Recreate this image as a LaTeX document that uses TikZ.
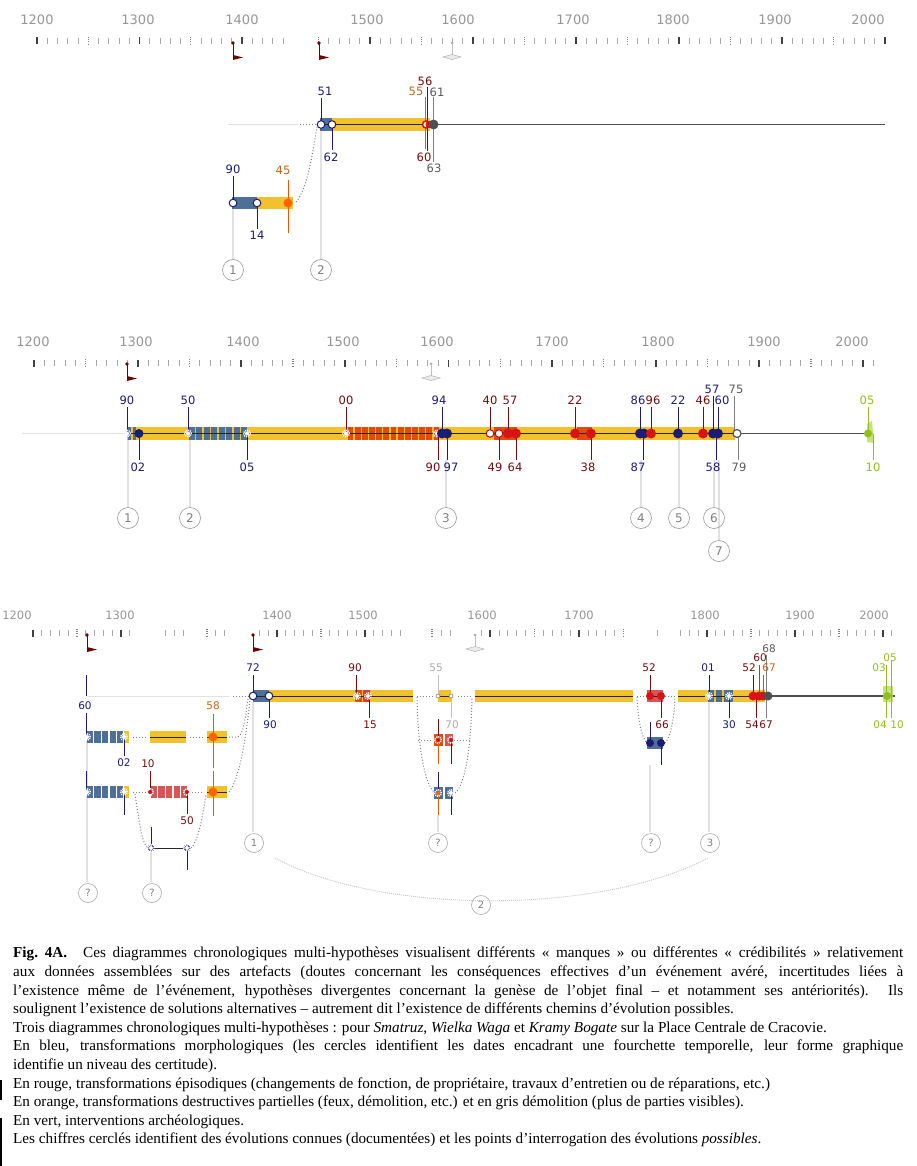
\documentclass[tikz,border=0pt]{standalone}
\usepackage{fontspec}
\setmainfont{Liberation Serif}
\newfontfamily\lblfont{DejaVu Sans}
\definecolor{gold}{RGB}{242,193,46}
\definecolor{steel}{RGB}{78,112,150}
\definecolor{navy}{RGB}{28,28,112}
\definecolor{dred}{RGB}{112,12,12}
\definecolor{red1}{RGB}{215,20,20}
\definecolor{ored}{RGB}{225,75,15}
\definecolor{orng}{RGB}{255,100,0}
\definecolor{olbl}{RGB}{200,100,20}
\definecolor{lred}{RGB}{215,85,85}
\definecolor{grn}{RGB}{145,190,30}
\definecolor{lgrn}{RGB}{180,220,90}
\definecolor{gtext}{RGB}{90,90,90}
\definecolor{ltext}{RGB}{170,170,170}
\definecolor{axg}{RGB}{150,150,150}
\definecolor{lgray}{RGB}{225,225,225}
\definecolor{dgray}{RGB}{80,80,80}
\definecolor{flagred}{RGB}{110,0,0}
\definecolor{brn}{RGB}{150,70,60}
\newcounter{lblc}
\newcommand\mylbl[4]{\stepcounter{lblc}\node[lbl, text=#3] (L\arabic{lblc}) at (#1,#2) {#4};}
\newcommand\mylbs[4]{\stepcounter{lblc}\node[lbs, text=#3] (L\arabic{lblc}) at (#1,#2) {#4};}
\newcommand\drawticks[6]{%
 \foreach \dd in {#5,...,#6}{%
  \pgfmathsetmacro\xx{#2+(\dd-#3)*#4}%
  \pgfmathtruncatemacro\tkm{mod(\dd,10)}%
  \ifnum\tkm=0 \draw[tmaj] (\xx,#1-3.5) -- (\xx,#1+3.5);%
  \else\ifnum\tkm=5 \draw[thalf] (\xx,#1-4) -- (\xx,#1+4);%
  \else \draw[tmin] (\xx,#1-3) -- (\xx,#1+3);\fi\fi}}
\newcommand\flagmark[2]{\fill[flagred] (#1,#2) circle (1.8pt);
 \draw[flagred, line width=0.8pt] (#1,#2) -- (#1,#2+17);
 \fill[flagred] (#1,#2+12) -- (#1+10,#2+14.5) -- (#1,#2+17) -- cycle;}
\newcommand\graymark[2]{\fill[gray!70] (#1,#2) circle (1.5pt);
 \draw[gray!50, line width=0.7pt] (#1,#2) -- (#1,#2+12);
 \draw[gray!60, fill=gray!15, line width=0.5pt] (#1-9,#2+14) -- (#1,#2+11.5) -- (#1+9,#2+14) -- (#1,#2+16.5) -- cycle;}
\newcommand\stripebar[6]{%
 \pgfmathsetmacro\stw{(#2-#1)/#6}%
 \foreach \kk in {1,...,#6}{%
   \fill[#5] ({#1+(\kk-1)*\stw+0.7},#3) rectangle ({#1+\kk*\stw-0.7},#4);}}
\newcommand\sdt[3]{\fill[#3] (#1,#2) circle (2pt);
 \draw[white, line width=1.4pt, dash pattern=on 1.1pt off 0.9pt] (#1,#2) circle (3.3pt);}
\newcommand\wdt[2]{\draw[navy, fill=white, line width=1pt] (#1,#2) circle (3.8pt);}
\newcommand\fdt[4]{\fill[#3] (#1,#2) circle (#4pt);}
\begin{document}
\begin{tikzpicture}[x=1pt,y=-1pt,
 lbl/.style={font=\lblfont\fontsize{11.5}{12}\selectfont, inner sep=0pt},
 lbs/.style={font=\lblfont\fontsize{10.5}{11}\selectfont, inner sep=0pt},
 axl/.style={font=\lblfont\fontsize{13}{14}\selectfont, text=axg, inner sep=0pt},
 axs/.style={font=\lblfont\fontsize{11.5}{12}\selectfont, text=axg, inner sep=0pt},
 cnum/.style={circle, draw=gray!80, line width=0.6pt, minimum size=21pt, inner sep=0pt, text=gray, font=\lblfont\fontsize{12}{12}\selectfont},
 cnums/.style={circle, draw=gray!70, line width=0.6pt, minimum size=19pt, inner sep=0pt, text=gray, font=\lblfont\fontsize{10}{10}\selectfont},
 conn/.style={lgray, line width=2.5pt},
 dots/.style={gray, line width=1pt, dotted},
 vl/.style={line width=0.8pt},
 blk/.style={black!85, line width=0.8pt},
 tmaj/.style={black!75, line width=1.8pt},
 tmin/.style={gray!70, line width=0.7pt},
 thalf/.style={gray, line width=1.2pt, dash pattern=on 1pt off 1.2pt}]
\useasboundingbox (0,0) rectangle (916,1166);
\fill[white] (0,0) rectangle (916,1166);

%================ DIAGRAM 1 =================
\foreach \t/\x in {1200/37,1300/138,1400/242,1500/367,1600/458,1700/573,1800/673,1900/775,2000/868}
  \node[axl] (a1-\t) at (\x,20) {\t};
\drawticks{41}{37}{120}{10.25}{120}{144}
\drawticks{41}{370}{150}{10.3}{145}{200}
\flagmark{233}{43}
\flagmark{319}{43}
\graymark{452}{43}
\draw[conn] (233,209) -- (233,259);
\draw[conn] (321,131) -- (321,259);
\node[cnum] (c1a) at (233,270) {1};
\node[cnum] (c1b) at (321,270) {2};
\draw[lgray, line width=1pt] (228,124.5) -- (298,124.5);
\draw[dots] (300,124.5) -- (318,124.5);
\fill[steel] (320,118) rectangle (332,131);
\fill[gold] (332,118) rectangle (430,131);
\draw[blk] (320,124.5) -- (432,124.5);
\draw[dgray, line width=1.2pt] (432,124.5) -- (885,124.5);
\fill[steel] (232,197) rectangle (257,209);
\fill[gold] (257,197) rectangle (293,209);
\draw[dots] (296,202) .. controls (308,188) and (313,150) .. (317,127);
\draw[navy, vl] (321,98) -- (321,124.5);
\draw[navy, vl] (332,124.5) -- (332,150);
\draw[orng!90!black, vl] (425,97) -- (425,149);
\draw[dred, vl] (427.5,87) -- (427.5,151);
\draw[gray, vl] (433,97) -- (433,162);
\draw[navy, vl] (233,176) -- (233,203);
\draw[navy, vl] (257,203) -- (257,229);
\draw[orng!90!black, vl] (288,180) -- (288,233);
\wdt{321}{124.5} \wdt{332}{124.5}
\draw[red1, fill=white, line width=1.5pt] (426,124.5) circle (3.5pt);
\fdt{429}{124.5}{red1}{3.5}
\fdt{433.5}{124.5}{dgray}{5}
\wdt{233}{203} \wdt{257}{203}
\fdt{288}{203}{orng}{4.5}
\mylbl{325}{91}{navy}{51} \mylbl{331}{157}{navy}{62}
\mylbl{425}{81}{dred}{56} \mylbl{416}{91}{olbl}{55} \mylbl{437}{92}{gtext}{61}
\mylbl{424}{157}{dred}{60} \mylbl{434}{168}{gtext}{63}
\mylbl{233}{169}{navy}{90} \mylbl{283}{170}{olbl}{45} \mylbl{257}{235}{navy}{14}

%================ DIAGRAM 2 =================
\foreach \t/\x in {1200/33,1300/136,1400/243,1500/343,1600/437,1700/552,1800/658,1900/764,2000/852}
  \node[axl] (a2-\t) at (\x,342) {\t};
\drawticks{363}{34}{120}{10.36}{120}{201}
\flagmark{127}{364}
\graymark{431}{364}
\draw[conn] (128,440) -- (128,507);
\draw[conn] (190,440) -- (190,507);
\draw[conn] (446,460) -- (446,507);
\draw[conn] (641,460) -- (641,507);
\draw[conn] (679,440) -- (679,507);
\draw[conn] (714,460) -- (714,507);
\draw[conn] (719,460) -- (719,540);
\node[cnum] (c2a) at (128,518) {1};
\node[cnum] (c2b) at (190,518) {2};
\node[cnum] (c2c) at (446,518) {3};
\node[cnum] (c2d) at (641,518) {4};
\node[cnum] (c2e) at (679,518) {5};
\node[cnum] (c2f) at (714,518) {6};
\node[cnum] (c2g) at (719,551) {7};
\draw[lgray, line width=1pt] (22,433.5) -- (127,433.5);
\fill[gold] (127,427) rectangle (735,440);
\stripebar{127}{137}{427}{440}{steel}{2}
\stripebar{188}{248}{427}{440}{steel}{8}
\stripebar{347}{440}{427}{440}{ored}{13}
\fill[ored] (494,427) rectangle (517,440);
\fill[ored] (577,427) rectangle (592,440);
\draw[blk] (127,433.5) -- (737,433.5);
\draw[dgray, line width=1.2pt] (737,433.5) -- (873,433.5);
\fill[lgrn, opacity=0.8] (867,424) -- (872,421) -- (874,443) -- (867,442) -- cycle;
% top label lines
\foreach \x in {127,188,442,640,678,718} \draw[navy, vl] (\x,407) -- (\x,433.5);
\foreach \x in {346,490,508,575,651,703} \draw[dred, vl] (\x,407) -- (\x,433.5);
\draw[navy, vl] (713,396) -- (713,433.5);
\draw[gray, vl] (734,396) -- (734,433.5);
\draw[grn, vl] (868,407) -- (868,433.5);
% bottom label lines
\foreach \x in {139,247,447,643,716} \draw[navy, vl] (\x,433.5) -- (\x,460);
\foreach \x in {438,499,516,591} \draw[dred, vl] (\x,433.5) -- (\x,460);
\draw[gray, vl] (738,433.5) -- (738,460);
\draw[grn, vl] (873,433.5) -- (873,460);
% dots
\sdt{127}{433.5}{white}
\fdt{139}{433.5}{navy}{4.5}
\sdt{188}{433.5}{white} \sdt{247}{433.5}{white}
\sdt{346}{433.5}{white} \sdt{437}{433.5}{white}
\fdt{442}{433.5}{navy}{5} \fdt{447}{433.5}{navy}{5}
\draw[red1!80!black, fill=white, line width=1pt] (490,433.5) circle (3.8pt);
\draw[red1!80!black, fill=white, line width=1pt] (499,433.5) circle (3.8pt);
\fdt{508}{433.5}{red1}{5} \fdt{516}{433.5}{red1}{5}
\fdt{575}{433.5}{red1}{5} \fdt{591}{433.5}{red1}{5}
\fdt{640}{433.5}{navy}{5} \fdt{644}{433.5}{navy}{5}
\fdt{651}{433.5}{red1}{5}
\fdt{678}{433.5}{navy}{5}
\fdt{703}{433.5}{red1}{5}
\fdt{713}{433.5}{navy}{5} \fdt{718}{433.5}{navy}{5}
\draw[dgray, fill=white, line width=1.2pt] (737,433.5) circle (4pt);
\fdt{868}{433.5}{grn}{4}
% labels
\mylbl{127}{400}{navy}{90} \mylbl{188}{400}{navy}{50} \mylbl{346}{400}{dred}{00}
\mylbl{439}{400}{navy}{94} \mylbl{490}{400}{dred}{40} \mylbl{510}{400}{dred}{57}
\mylbl{575}{400}{dred}{22} \mylbl{638}{400}{navy}{86} \mylbl{653}{400}{dred}{96}
\mylbl{678}{400}{navy}{22} \mylbl{703}{400}{dred}{46} \mylbl{712}{389}{navy}{57}
\mylbl{722}{400}{navy}{60} \mylbl{736}{389}{gtext}{75} \mylbl{867}{400}{grn}{05}
\mylbl{138}{467}{navy}{02} \mylbl{247}{467}{navy}{05} \mylbl{433}{467}{dred}{90}
\mylbl{451}{467}{navy}{97} \mylbl{495}{467}{dred}{49} \mylbl{515}{467}{dred}{64}
\mylbl{588}{467}{dred}{38} \mylbl{638}{467}{navy}{87} \mylbl{713}{467}{navy}{58}
\mylbl{739}{467}{gtext}{79} \mylbl{873}{467}{grn}{10}

%================ DIAGRAM 3 =================
\foreach \t/\x in {1200/17,1300/120,1400/277,1500/363,1600/482,1700/579,1800/705,1900/800,2000/874}
  \node[axs] (a3-\t) at (\x,615) {\t};
\drawticks{633}{33}{120}{8.8}{120}{131}
\foreach \x in {165,174,183,215,224,441,450,657} \draw[tmin] (\x,630) -- (\x,636);
\foreach \x in {207,432} \draw[thalf] (\x,629) -- (\x,637);
\drawticks{633}{277}{140}{8.8}{138}{154}
\drawticks{633}{490}{160}{8.9}{159}{175}
\drawticks{633}{707}{180}{8.8}{177}{201}
\flagmark{87}{635}
\flagmark{253}{635}
\graymark{475}{635}
% grey connectors
\draw[conn] (87,741) -- (87,882);
\draw[conn] (151,852) -- (151,882);
\draw[conn] (253,702) -- (253,832);
\draw[conn] (438,815) -- (438,832);
\draw[conn] (650,765) -- (650,832);
\draw[conn] (709,700) -- (709,832);
\node[cnums] (c3q1) at (88,893) {?};
\node[cnums] (c3q2) at (152,893) {?};
\node[cnums] (c3a) at (254,843) {1};
\node[cnums] (c3q3) at (438,843) {?};
\node[cnums] (c3q4) at (651,843) {?};
\node[cnums] (c3c) at (710,843) {3};
\node[cnums] (c3b) at (481,905) {2};
\draw[gray!45, line width=0.9pt, dash pattern=on 1pt off 1pt] (275,858) .. controls (380,915) and (600,915) .. (708,858);
% main line
\draw[lgray, line width=1pt] (87,696) -- (229,696);
\draw[dots] (233,696) -- (250,696);
\fill[steel] (253,690) rectangle (269,702);
\fill[gold] (269,690) rectangle (413,702);
\fill[ored] (355,690) rectangle (362,702);
\fill[red1!85] (363,690) rectangle (370,702);
\draw[blk] (253,696) -- (413,696);
\draw[dots] (417,696) -- (433,696);
\fill[gold] (438,690) rectangle (451,702);
\draw[blk] (438,696) -- (451,696);
\draw[dots] (458,696) -- (472,696);
\fill[gold] (475,690) rectangle (633,702);
\draw[blk] (475,696) -- (633,696);
\draw[dots] (637,696) -- (647,696);
\fill[lred] (647,690) rectangle (663,702);
\draw[blk] (647,696) -- (663,696);
\draw[dots] (665,696) -- (675,696);
\fill[gold] (678,690) rectangle (765,702);
\fill[steel] (708,690) rectangle (714,702);
\fill[steel] (716,690) rectangle (722,702);
\fill[steel] (724,690) rectangle (733,702);
\draw[blk] (678,696) -- (768,696);
\draw[dgray, line width=1.2pt] (768,696) -- (895,696);
\fill[lgrn, opacity=0.8] (883,686) rectangle (893,702);
% left rows
\stripebar{86}{124}{731}{743}{steel}{5}
\fill[gold] (124,731) rectangle (129,743);
\draw[dots] (133,737) -- (146,737);
\fill[gold] (150,731) rectangle (186,743);
\draw[blk] (150,737) -- (186,737);
\draw[dots] (190,737) -- (203,737);
\fill[gold] (207,731) rectangle (227,743);
\draw[blk] (207,737) -- (227,737);
\draw[dots] (229,737) -- (237,737) .. controls (244,737) and (246,712) .. (248,698);
\stripebar{86}{124}{786}{798}{steel}{5}
\fill[gold] (124,786) rectangle (129,798);
\draw[dots] (133,792) -- (146,792);
\stripebar{150}{188}{786}{798}{lred}{5}
\draw[dots] (192,792) -- (204,792);
\fill[gold] (207,786) rectangle (227,798);
\draw[blk] (207,792) -- (227,792);
\draw[dots] (229,792) .. controls (239,780) and (246,740) .. (250,699);
\draw[dots] (135,794) .. controls (139,820) and (142,845) .. (148,848);
\draw[dots] (191,848) .. controls (198,842) and (203,815) .. (206,794);
\draw[blk] (151,848) -- (187,848);
% middle U
\draw[dots] (417,697) .. controls (418,750) and (425,785) .. (435,793);
\draw[dots] (455,793) .. controls (465,785) and (471,750) .. (472,697);
\draw[dots] (418,740) -- (433,740);
\draw[dots] (454,740) -- (470,740);
\fill[ored] (434,734) rectangle (443,746);
\fill[lred] (445,734) rectangle (453,746);
\fill[steel] (434,787) rectangle (443,799);
\fill[steel] (445,787) rectangle (453,799);
% right U
\draw[dots] (637,697) .. controls (638,722) and (642,738) .. (647,743);
\draw[dots] (665,743) .. controls (670,738) and (674,722) .. (675,697);
\fill[steel] (647,737) rectangle (663,749);
% label lines diagram 3
\foreach \x in {253,709,86} \draw[navy, vl] (\x,675) -- (\x,696);
\draw[navy, vl] (86,713) -- (86,737);
\foreach \x in {269,729} \draw[navy, vl] (\x,696) -- (\x,718);
\foreach \x in {356,650,753} \draw[dred, vl] (\x,675) -- (\x,696);
\foreach \x in {369,661,756} \draw[dred, vl] (\x,696) -- (\x,718);
\draw[gray!50, vl] (438,675) -- (438,696);
\draw[gray!50, vl] (451,696) -- (451,718);
\draw[brn, vl] (759,665) -- (759,696);
\draw[orng!80!black, vl] (763,675) -- (763,696);
\draw[gray, vl] (766,655) -- (766,718);
\draw[grn, vl] (886,665) -- (886,718);
\draw[grn, vl] (891,660) -- (891,718);
\draw[navy, vl] (124,737) -- (124,756);
\draw[orng!90!black, vl] (213,714) -- (213,768);
\draw[navy, vl] (86,771) -- (86,792);
\draw[navy, vl] (124,792) -- (124,815);
\draw[dred, vl] (150,771) -- (150,792);
\draw[dred, vl] (187,792) -- (187,814);
\draw[orng!90!black, vl] (213,771) -- (213,816);
\draw[navy, vl] (151,827) -- (151,848);
\draw[navy, vl] (187,848) -- (187,870);
\draw[dred, vl] (438,719) -- (438,740);
\draw[orng!90!black, vl] (438,740) -- (438,764);
\draw[dred, vl] (451,740) -- (451,764);
\draw[navy, vl] (438,772) -- (438,793);
\draw[orng!90!black, vl] (438,793) -- (438,815);
\draw[navy, vl] (451,793) -- (451,815);
\draw[navy, vl] (650,722) -- (650,743);
\draw[navy, vl] (661,743) -- (661,765);
% dots diagram 3
\wdt{253}{696} \wdt{269}{696}
\sdt{357}{696}{white} \sdt{368}{696}{white}
\draw[gray, fill=white, line width=0.6pt] (438,696) circle (2pt);
\draw[gray, fill=white, line width=0.6pt] (451,696) circle (2pt);
\fdt{650}{696}{red1}{4} \fdt{661}{696}{red1}{4}
\sdt{709}{696}{white} \sdt{729}{696}{white}
\fdt{753}{696}{red1}{4.5} \fdt{759}{696}{red1}{4.5} \fdt{763}{696}{red1}{4.5}
\fdt{768}{696}{dgray}{4.5}
\fdt{887}{696}{grn}{4}
\sdt{87}{737}{white} \sdt{124}{737}{white}
\fdt{213}{737}{orng}{4.5}
\sdt{87}{792}{white} \sdt{124}{792}{white}
\sdt{150}{792}{red1} \sdt{187}{792}{red1}
\fdt{213}{792}{orng}{4.5}
\fdt{151}{848}{navy}{3.5} \sdt{151}{848}{white}
\fdt{187}{848}{navy}{3.5} \sdt{187}{848}{white}
\sdt{438}{740}{red1} \sdt{451}{740}{red1}
\sdt{438}{793}{orng} \sdt{451}{793}{white}
\fdt{650}{743}{navy}{4} \fdt{661}{743}{navy}{4}
% labels diagram 3
\mylbs{253}{668}{navy}{72} \mylbs{270}{725}{navy}{90}
\mylbs{355}{668}{dred}{90} \mylbs{370}{725}{dred}{15}
\mylbs{436}{668}{ltext}{55} \mylbs{452}{725}{ltext}{70}
\mylbs{649}{668}{dred}{52} \mylbs{662}{725}{dred}{66}
\mylbs{708}{668}{navy}{01} \mylbs{729}{725}{navy}{30}
\mylbs{749}{668}{dred}{52} \mylbs{760}{658}{dred}{60}
\mylbs{769}{649}{gtext}{68} \mylbs{769}{668}{olbl}{67}
\mylbs{752}{725}{dred}{54} \mylbs{766}{725}{dred}{67}
\mylbs{879}{668}{grn}{03} \mylbs{890}{658}{grn}{05}
\mylbs{880}{725}{grn}{04} \mylbs{897}{725}{grn}{10}
\mylbs{85}{706}{navy}{60} \mylbs{124}{763}{navy}{02}
\mylbs{213}{706}{olbl}{58}
\mylbs{148}{764}{dred}{10} \mylbs{187}{821}{dred}{50}

%================ CAPTION =================
\node[anchor=north west, inner sep=0pt, text width=890pt, align=justify,
      font=\fontsize{15.2}{18.6}\selectfont] (cap) at (13,947) {%
\tolerance=10000 \parindent=0pt
\textbf{Fig.~4A.}\hspace{16pt}Ces diagrammes chronologiques multi-hypothèses visualisent différents «~manques~» ou différentes «~crédibilités~» relativement\linebreak
aux données assemblées sur des artefacts (doutes concernant les conséquences effectives d’un événement avéré, incertitudes liées à\linebreak
l’existence même de l’événement, hypothèses divergentes concernant la genèse de l’objet final – et notamment ses antériorités). Ils\linebreak
soulignent l’existence de solutions alternatives – autrement dit l’existence de différents chemins d’évolution possibles.\par
Trois diagrammes chronologiques multi-hypothèses~: pour \textit{Smatruz}, \textit{Wielka Waga} et \textit{Kramy Bogate} sur la Place Centrale de Cracovie.\par
En bleu, transformations morphologiques (les cercles identifient les dates encadrant une fourchette temporelle, leur forme graphique\linebreak
identifie un niveau des certitude).\par
En rouge, transformations épisodiques (changements de fonction, de propriétaire, travaux d’entretien ou de réparations, etc.)\par
En orange, transformations destructives partielles (feux, démolition, etc.) et en gris démolition (plus de parties visibles).\par
En vert, interventions archéologiques.\par
Les chiffres cerclés identifient des évolutions connues (documentées) et les points d’interrogation des évolutions \textit{possibles}.\par};
\fill[black] (0,1080) rectangle (1.5,1100);
\fill[black] (0,1118) rectangle (1.5,1166);
\end{tikzpicture}
\end{document}
